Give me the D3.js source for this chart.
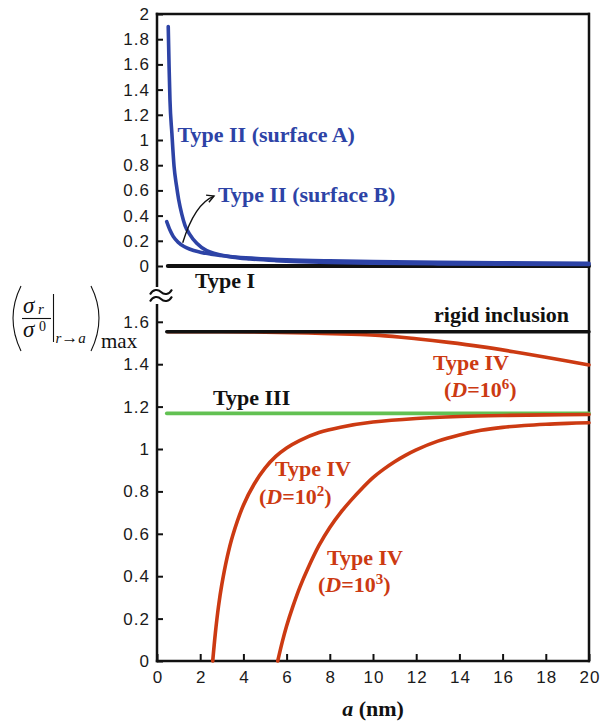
<!DOCTYPE html>
<html><head><meta charset="utf-8">
<script src="https://cdn.jsdelivr.net/npm/d3@7"></script>
<style>html,body{margin:0;padding:0;background:#fff;}</style>
</head><body>
<svg id="chart" width="604" height="724"></svg>
<script>
// ---- data ----
const xTicks = [0,2,4,6,8,10,12,14,16,18,20];
const upperTicks = [0,0.2,0.4,0.6,0.8,1,1.2,1.4,1.6,1.8,2];
const upperTickLabels = ["0","0.2","0.4","0.6","0.8","1","1.2","1.4","1.6","1.8","2"];
const lowerTicks = [0,0.2,0.4,0.6,0.8,1,1.2,1.4,1.6];
const lowerTickLabels = ["0","0.2","0.4","0.6","0.8","1","1.2","1.4","1.6"];

const typeIIA = [[0.52,1.9],[0.56,1.58],[0.6,1.32],[0.69,1.05],[0.79,0.79],[0.9,0.64],[1.0,0.53],[1.15,0.41],[1.3,0.32],[1.5,0.255],[1.84,0.18],[2.3,0.122],[2.76,0.095],[3.5,0.07],[4.3,0.056],[5.5,0.043],[6.6,0.035],[8,0.028],[10,0.022],[13,0.017],[16,0.014],[20,0.012]];
const typeIIB = [[0.45,0.352],[0.6,0.285],[0.75,0.235],[1.0,0.185],[1.25,0.155],[1.5,0.135],[2.0,0.11],[2.5,0.094],[3.5,0.074],[4.5,0.062],[6,0.05],[8,0.041],[10,0.035],[13,0.029],[16,0.025],[20,0.021]];
const typeI = [[0.5,0],[20,0]];
const rigidInclusion = [[0.45,1.553],[20,1.553]];
const typeIII = [[0.45,1.168],[20,1.168]];
const typeIVD6 = [[0.5,1.553],[3,1.553],[5,1.551],[7,1.547],[9,1.541],[10.3,1.536],[12,1.52],[13.5,1.503],[15,1.483],[16.5,1.459],[18,1.433],[20,1.396]];
const typeIVD2 = [[2.58,0],[2.7,0.13],[2.85,0.26],[3.0,0.36],[3.25,0.49],[3.5,0.59],[4.0,0.735],[4.5,0.835],[5.0,0.91],[5.5,0.965],[6.0,1.005],[6.6,1.04],[7.5,1.078],[8.5,1.103],[10,1.127],[12,1.144],[14,1.153],[16,1.158],[18,1.161],[20,1.163]];
const typeIVD3 = [[5.59,0],[5.8,0.09],[6.0,0.165],[6.3,0.26],[6.62,0.35],[7.0,0.44],[7.5,0.545],[8.0,0.63],[8.5,0.7],[9.0,0.76],[9.5,0.815],[10.0,0.865],[10.5,0.905],[11.0,0.94],[11.5,0.97],[12,0.996],[13,1.037],[14,1.066],[15,1.088],[16,1.102],[17,1.111],[18,1.117],[19,1.121],[20,1.124]];
// arrow annotation (start, control, tip) in data units of upper panel
const arrowPts = [[1.19,0.184],[1.74,0.494],[2.64,0.555]];

// ---- styles ----
const BLUE = "#2d43a6", RED = "#cc3a12", GREEN = "#62c152", BLACK = "#111";
const SERIF = "'Liberation Serif','Times New Roman',serif";
const SANS = "'Liberation Sans',Arial,Helvetica,sans-serif";

const svg = d3.select("#chart");
const x = d3.scaleLinear([0,20],[157,589]);
const yU = d3.scaleLinear([0,2],[266,14]);
const yL = d3.scaleLinear([0,1.6],[661,321.8]);

// ---- axes ----
const gU = svg.append("g").attr("transform","translate(157,0)")
  .call(d3.axisLeft(yU).tickValues(upperTicks).tickFormat((d,i)=>upperTickLabels[i]).tickSize(-6).tickPadding(7));
const gL = svg.append("g").attr("transform","translate(157,0)")
  .call(d3.axisLeft(yL).tickValues(lowerTicks).tickFormat((d,i)=>lowerTickLabels[i]).tickSize(-6).tickPadding(7));
const gX = svg.append("g").attr("transform","translate(0,661)")
  .call(d3.axisBottom(x).tickValues(xTicks).tickFormat(d3.format("d")).tickSize(-7).tickPadding(10));
[gU,gL,gX].forEach(g=>{
  g.select(".domain").remove();
  g.selectAll(".tick line").attr("stroke",BLACK).attr("stroke-width",2);
  g.selectAll(".tick text").attr("font-family",SANS).attr("font-size",17).attr("fill","#1a1a1a")
    .attr("letter-spacing","1px");
});
gX.selectAll(".tick text").attr("dx","0.5px");

// frame
const frame = svg.append("g").attr("stroke",BLACK).attr("stroke-width",2.5).attr("fill","none");
frame.append("line").attr("x1",157).attr("x2",157).attr("y1",12.8).attr("y2",662.2);
frame.append("line").attr("x1",155.8).attr("x2",590).attr("y1",14).attr("y2",14);
frame.append("line").attr("x1",589).attr("x2",589).attr("y1",12.8).attr("y2",662.2);
frame.append("line").attr("x1",155.8).attr("x2",590).attr("y1",661).attr("y2",661);

// axis break
svg.append("rect").attr("x",148).attr("y",287).attr("width",26).attr("height",17).attr("fill","#fff");
[292,299].forEach(yy=>{
  svg.append("path")
    .attr("d",`M150,${yy+2.5} C153,${yy-3} 158,${yy-3} 161,${yy} S169,${yy+3} 172,${yy-2.5}`)
    .attr("fill","none").attr("stroke",BLACK).attr("stroke-width",2);
});

// ---- lines ----
const lineU = d3.line().x(d=>x(d[0])).y(d=>yU(d[1])).curve(d3.curveMonotoneX);
const lineL = d3.line().x(d=>x(d[0])).y(d=>yL(d[1])).curve(d3.curveCatmullRom.alpha(0.5));
function draw(gen,data,color,w){
  svg.append("path").attr("d",gen(data)).attr("fill","none").attr("stroke",color)
    .attr("stroke-width",w).attr("stroke-linecap","round").attr("stroke-linejoin","round");
}
draw(lineU,typeI,BLACK,4);
draw(lineU,typeIIB,BLUE,3.6);
draw(lineU,typeIIA,BLUE,3.6);
draw(lineL,typeIII,GREEN,3.6);
draw(lineL,typeIVD6,RED,3.6);
draw(lineL,rigidInclusion,BLACK,3.4);
draw(lineL,typeIVD2,RED,3.6);
draw(lineL,typeIVD3,RED,3.6);

// arrow
const p0=[x(arrowPts[0][0]),yU(arrowPts[0][1])], p1=[x(arrowPts[1][0]),yU(arrowPts[1][1])], p2=[x(arrowPts[2][0]),yU(arrowPts[2][1])];
svg.append("path").attr("d",`M${p0} Q${p1} ${p2}`).attr("fill","none").attr("stroke",BLACK).attr("stroke-width",1.4);
{
  const dx=p2[0]-p1[0], dy=p2[1]-p1[1], L=Math.hypot(dx,dy), ux=dx/L, uy=dy/L, len=8, ang=0.5;
  const a1=[p2[0]-len*(ux*Math.cos(ang)-uy*Math.sin(ang)), p2[1]-len*(uy*Math.cos(ang)+ux*Math.sin(ang))];
  const a2=[p2[0]-len*(ux*Math.cos(-ang)-uy*Math.sin(-ang)), p2[1]-len*(uy*Math.cos(-ang)+ux*Math.sin(-ang))];
  svg.append("path").attr("d",`M${a1} L${p2} L${a2}`).attr("fill","none").attr("stroke",BLACK).attr("stroke-width",1.4);
}

// ---- labels ----
function label(xp,yp,txt,color){
  return svg.append("text").attr("x",xp).attr("y",yp).attr("font-family",SERIF).attr("font-weight","bold")
    .attr("font-size",22).attr("fill",color).text(txt);
}
function dLabel(xp,yp,exp,color){
  const t = svg.append("text").attr("x",xp).attr("y",yp).attr("font-family",SERIF).attr("font-weight","bold")
    .attr("font-size",22).attr("fill",color);
  t.append("tspan").text("(");
  t.append("tspan").attr("font-style","italic").text("D");
  t.append("tspan").text("=10");
  t.append("tspan").attr("font-size",15).attr("dy",-8).text(exp);
  t.append("tspan").attr("dy",8).text(")");
}
label(177.5,142,"Type II (surface A)",BLUE);
label(218,202,"Type II (surface B)",BLUE);
label(195,288,"Type I",BLACK);
label(434,322,"rigid inclusion",BLACK);
label(433,370,"Type IV",RED);
dLabel(444,397,"6",RED);
label(213,405,"Type III",BLACK);
label(275,476,"Type IV",RED);
dLabel(259,504,"2",RED);
label(327,565,"Type IV",RED);
dLabel(318,592,"3",RED);

// x-axis title
{
  const t = svg.append("text").attr("x",373).attr("y",716).attr("text-anchor","middle")
    .attr("font-family",SERIF).attr("font-weight","bold").attr("font-size",22).attr("fill",BLACK);
  t.append("tspan").attr("font-style","italic").text("a");
  t.append("tspan").text(" (nm)");
}

// y-axis title (σ_r / σ^0 |_{r→a})_max
{
  const g = svg.append("g").attr("fill","#111").attr("font-family",SERIF);
  g.append("path").attr("d","M21,286 Q5,318 21,351").attr("fill","none").attr("stroke","#111").attr("stroke-width",1.1);
  g.append("path").attr("d","M91,286 Q107,318 91,351").attr("fill","none").attr("stroke","#111").attr("stroke-width",1.1);
  g.append("text").attr("x",23).attr("y",313).attr("font-size",23).attr("font-style","italic").text("σ");
  g.append("text").attr("x",38).attr("y",314).attr("font-size",15).attr("font-style","italic").text("r");
  g.append("line").attr("x1",22).attr("x2",51).attr("y1",318.5).attr("y2",318.5).attr("stroke","#111").attr("stroke-width",1.1);
  g.append("text").attr("x",23).attr("y",337).attr("font-size",23).attr("font-style","italic").text("σ");
  g.append("text").attr("x",39).attr("y",331).attr("font-size",14).text("0");
  g.append("line").attr("x1",53.5).attr("x2",53.5).attr("y1",294).attr("y2",342).attr("stroke","#111").attr("stroke-width",1.1);
  const s = g.append("text").attr("x",55.5).attr("y",343).attr("font-size",15);
  s.append("tspan").attr("font-style","italic").text("r");
  s.append("tspan").attr("font-size",17).text("→");
  s.append("tspan").attr("font-style","italic").text("a");
  g.append("text").attr("x",101).attr("y",348).attr("font-size",21).text("max");
}
</script>
</body></html>
